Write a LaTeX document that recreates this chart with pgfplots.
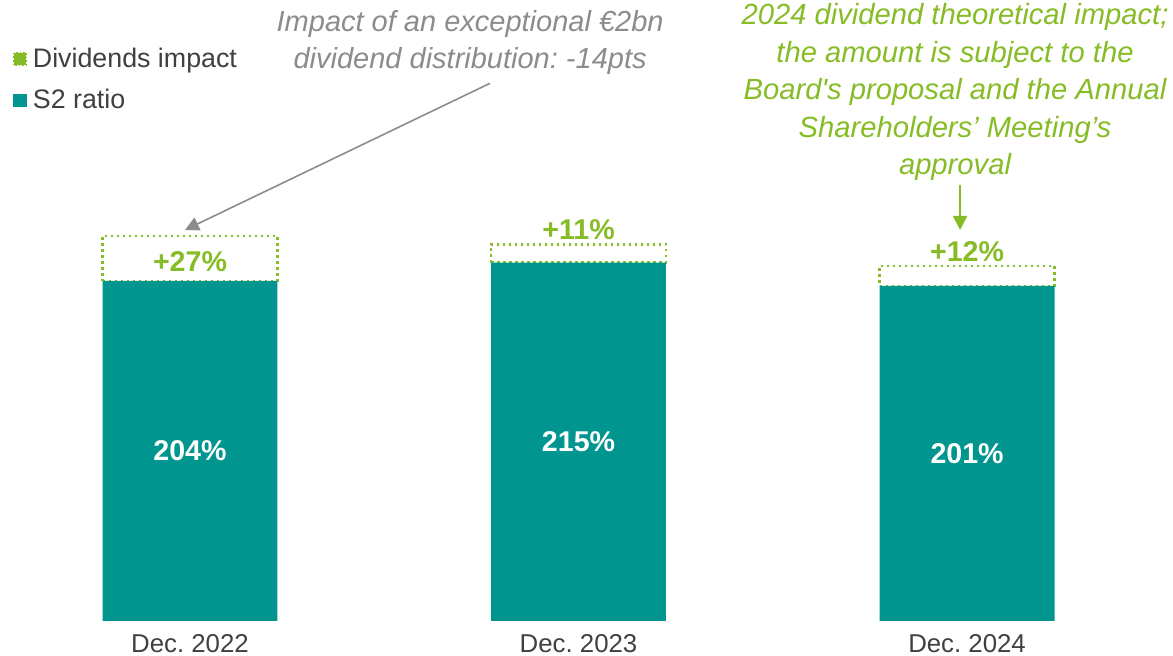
\documentclass[border=0pt]{standalone}
\usepackage{pgfplots}
\pgfplotsset{compat=1.18}
\usepackage{fontspec}
\setmainfont{Liberation Sans}[Ligatures=TeXOff]
\usetikzlibrary{arrows.meta}
\definecolor{tealbar}{RGB}{0,150,143}
\definecolor{greenann}{RGB}{134,188,37}
\definecolor{grayann}{RGB}{140,140,140}
\definecolor{txt}{RGB}{64,64,64}
\frenchspacing
\begin{document}
\frenchspacing
\begin{tikzpicture}
\begin{axis}[
  scale only axis, width=586.5pt, height=310.5pt,
  xmin=-0.489, xmax=2.530, ymin=0, ymax=372.6,
  ybar stacked, bar width=0.45,
  axis line style={draw=none}, tick style={draw=none}, ytick=\empty,
  xtick={0,1,2}, xticklabels={Dec. 2022,Dec. 2023,Dec. 2024},
  xticklabel style={font=\fontsize{12.9}{15}\selectfont, text=txt, yshift=-3pt},
  clip=false,
  reverse legend,
  legend style={at={(0.011,0.93)}, anchor=north west, draw=none, fill=none,
    font=\fontsize{13.4}{15}\selectfont, text=txt, row sep=5.5pt,
    legend cell align=left, inner sep=0pt,
    nodes={inner xsep=3pt}},
]
\addplot[fill=tealbar, draw=none,
  legend image code/.code={\fill[tealbar] (0pt,-3.4pt) rectangle (6.8pt,3.4pt);}]
  coordinates {(0,204) (1,215) (2,201)};
\addplot[fill=white, draw=greenann, line width=1.2pt, dash pattern=on 1.3pt off 1.7pt,
  legend image code/.code={\draw[greenann, line width=0.55pt, dash pattern=on 0.8pt off 1pt] (0.3pt,-3.1pt) rectangle (6.5pt,3.1pt);}]
  coordinates {(0,27) (1,11) (2,12)};
\legend{S2 ratio, Dividends impact}

\coordinate (BL) at (rel axis cs:0,0);
\coordinate (TR) at (rel axis cs:1,1);
\coordinate (V0) at (axis cs:0,102);
\coordinate (V1) at (axis cs:1,107.5);
\coordinate (V2) at (axis cs:2,100.5);
\coordinate (D0) at (axis cs:0,215.4);
\coordinate (D1) at (axis cs:1,234.6);
\coordinate (D2) at (axis cs:2,221.4);
\coordinate (A1) at (axis cs:0.721,346.8);
\coordinate (A1s) at (axis cs:0.772,322.6);
\coordinate (A1e) at (axis cs:-0.013,234.6);
\coordinate (A2) at (axis cs:1.969,317.4);
\coordinate (A2s) at (axis cs:1.982,261.6);
\coordinate (A2e) at (axis cs:1.982,234.6);
\end{axis}
\node[text=white, font=\bfseries\fontsize{14.3}{16}\selectfont] at (V0) {204\%};
\node[text=white, font=\bfseries\fontsize{14.3}{16}\selectfont] at (V1) {215\%};
\node[text=white, font=\bfseries\fontsize{14.3}{16}\selectfont] at (V2) {201\%};
\node[text=greenann, font=\bfseries\fontsize{14.3}{16}\selectfont] at (D0) {+27\%};
\node[text=greenann, font=\bfseries\fontsize{14.3}{16}\selectfont] at (D1) {+11\%};
\node[text=greenann, font=\bfseries\fontsize{14.3}{16}\selectfont] at (D2) {+12\%};
\node[text=grayann, font=\itshape\fontsize{14.5}{18.5}\selectfont, align=center] at (A1)
  {Impact of an exceptional €2bn\\dividend distribution: -14pts};
\draw[grayann, line width=0.8pt, -{Triangle[length=7pt,width=7pt]}] (A1s) -- (A1e);
\node[text=greenann, font=\itshape\fontsize{14.6}{18.75}\selectfont, align=center] at (A2)
  {2024 dividend theoretical impact;\\the amount is subject to the\\Board's proposal and the Annual\\Shareholders’ Meeting’s\\approval};
\draw[greenann, line width=0.8pt, -{Triangle[length=7pt,width=7pt]}] (A2s) -- (A2e);
\pgfresetboundingbox
\useasboundingbox (BL) ++(0,-17.5pt) rectangle (TR);
\end{tikzpicture}
\end{document}
